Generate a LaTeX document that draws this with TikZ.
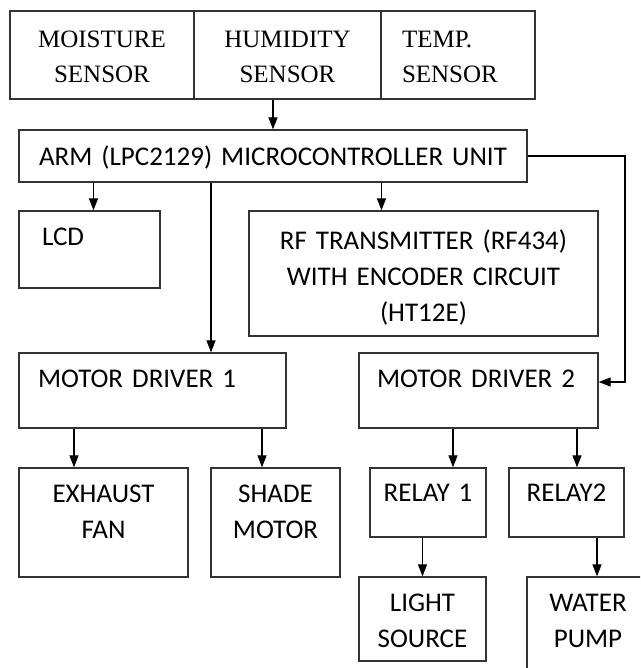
\documentclass[tikz,border=0pt]{standalone}
\usepackage{fontspec}
\setmainfont{Carlito}
\newfontfamily\sensorfont{Liberation Serif}
\usepackage{tikz}
\usetikzlibrary{arrows.meta,positioning}
\definecolor{edge}{HTML}{333333}

\begin{document}
\begin{tikzpicture}[
  x=1pt, y=-1pt,
  font=\fontsize{27}{36}\selectfont,
  block/.style={draw=edge, line width=1.3pt, inner sep=0pt, align=center},
  leftblock/.style={block, align=left},
  sensorblock/.style={block, font=\sensorfont\fontsize{25}{35}\selectfont},
  link/.style={-{Triangle[length=12pt,width=9pt]}, line width=1.2pt, black}
]
\useasboundingbox (0,0) rectangle (640,668);
\clip (0,0) rectangle (640,668);
% ---------------- sensors ----------------
\node[sensorblock, text width=184pt, text height=37pt, text depth=51pt] (moist) at (102,55) {MOISTURE\\SENSOR};
\node[sensorblock, text width=187pt, text height=37pt, text depth=51pt] (hum) at (287.5,55) {HUMIDITY\\SENSOR};
\node[sensorblock, align=left, inner xsep=21pt, text width=112pt, text height=37pt, text depth=51pt] (temp) at (458,55) {TEMP.\\SENSOR};
% ---------------- controller ----------------
\node[block, text width=508pt, text height=35.5pt, text depth=16.5pt] (mcu) at (273,156) {ARM (LPC2129) MICROCONTROLLER UNIT};
\node[leftblock, inner xsep=23pt, text width=95pt, text height=34pt, text depth=43pt] (lcd) at (89.5,249.5) {LCD};
\node[block, text width=349pt, text height=38pt, text depth=87pt] (rf) at (423.5,273.5) {RF TRANSMITTER (RF434)\\WITH ENCODER CIRCUIT\\(HT12E)};
% ---------------- drivers ----------------
\node[leftblock, inner xsep=19pt, text width=229pt, text height=34pt, text depth=41pt] (md1) at (152.5,390.5) {MOTOR DRIVER 1};
\node[leftblock, inner xsep=18pt, text width=203pt, text height=34pt, text depth=41pt] (md2) at (478.5,390.5) {MOTOR DRIVER 2};
% ---------------- outputs ----------------
\node[block, text width=169pt, text height=34pt, text depth=75pt] (fan) at (103.5,522.5) {EXHAUST\\FAN};
\node[block, text width=129pt, text height=34pt, text depth=75pt] (shade) at (275.5,522.5) {SHADE\\MOTOR};
\node[block, text width=116pt, text height=33pt, text depth=36pt] (relay1) at (428,502.5) {RELAY 1};
\node[block, text width=115pt, text height=33pt, text depth=36pt] (relay2) at (566.5,502.5) {RELAY2};
\node[block, text width=127pt, text height=34pt, text depth=50pt] (light) at (422.5,619) {LIGHT\\SOURCE};
\node[block, text width=122pt, text height=34pt, text depth=69pt] (water) at (588,628.5) {WATER\\PUMP};
% ---------------- connections ----------------
\draw[link] (hum.south -| mcu.north) -- (mcu.north);
\draw[link] ([xshift=4pt]lcd.north |- mcu.south) -- ([xshift=4pt]lcd.north);
\draw[link] ([xshift=-42pt]rf.north |- mcu.south) -- ([xshift=-42pt]rf.north);
\draw[link] ([xshift=58.5pt]md1.north |- mcu.south) -- ([xshift=58.5pt]md1.north);
\coordinate (turn) at (625,156);
\draw[link] (mcu.east) -- (turn) |- ([yshift=8.5pt]md2.east);
\draw[link] ([xshift=-29.5pt]fan.north |- md1.south) -- ([xshift=-29.5pt]fan.north);
\draw[link] ([xshift=-13.5pt]shade.north |- md1.south) -- ([xshift=-13.5pt]shade.north);
\draw[link] ([xshift=25pt]relay1.north |- md2.south) -- ([xshift=25pt]relay1.north);
\draw[link] ([xshift=10.5pt]relay2.north |- md2.south) -- ([xshift=10.5pt]relay2.north);
\draw[link] (relay1.south -| light.north) -- (light.north);
\draw[link] ([xshift=9pt]water.north |- relay2.south) -- ([xshift=9pt]water.north);
\end{tikzpicture}
\end{document}
